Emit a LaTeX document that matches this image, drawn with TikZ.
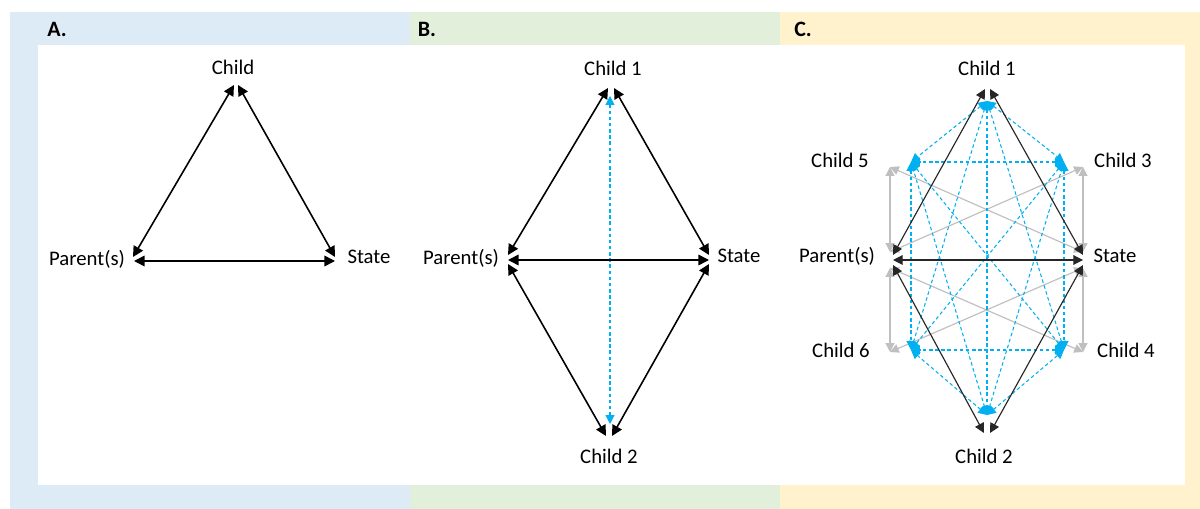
\documentclass[tikz,border=0pt]{standalone}
\usepackage{fontspec}
\setmainfont{Carlito}
\usetikzlibrary{arrows.meta}
\definecolor{bandA}{HTML}{DDEBF7}
\definecolor{bandB}{HTML}{E2EFDA}
\definecolor{bandC}{HTML}{FFF2CC}
\definecolor{cyanline}{HTML}{00B0F0}
\definecolor{greyline}{HTML}{BFBFBF}
\begin{document}
\begin{tikzpicture}[x=0.02cm,y=-0.02cm,
  lbl/.style={font=\fontsize{11.8}{14}\selectfont, inner sep=0pt},
  ttl/.style={font=\fontsize{12.5}{15}\selectfont\bfseries, inner sep=0pt},
  blk/.style={draw=black, line width=0.9pt, {Triangle[length=6pt,width=6pt]}-{Triangle[length=6pt,width=6pt]}},
  blkthin/.style={draw=black!85, line width=0.65pt, {Triangle[length=5.5pt,width=5.5pt]}-{Triangle[length=5.5pt,width=5.5pt]}},
  bluedash/.style={draw=cyanline, line width=0.6pt, dash pattern=on 2pt off 1.5pt, {Triangle[length=5pt,width=5pt]}-{Triangle[length=5pt,width=5pt]}},
  greyarr/.style={draw=greyline, line width=0.65pt, {Triangle[length=5pt,width=5pt]}-{Triangle[length=5pt,width=5pt]}}
]
\useasboundingbox (0,0) rectangle (1200,509);
% background bands
\fill[bandA] (10,12) rectangle (410,509);
\fill[bandB] (410,12) rectangle (780,509);
\fill[bandC] (780,12) rectangle (1200,509);
\fill[white] (38,45) rectangle (1185,485);
\node[ttl] (tA) at (57,29) {A.};
\node[ttl] (tB) at (427,29) {B.};
\node[ttl] (tC) at (803,29) {C.};

% ---------- Panel A ----------
\node[lbl] (Achild) at (233,67) {Child};
\node[lbl] (Apar) at (87,259) {Parent(s)};
\node[lbl] (Astate) at (369,257) {State};
\coordinate (a1l) at (234,85);
\coordinate (a1r) at (238,85);
\coordinate (a2t) at (133,257);
\coordinate (a2h) at (134,261);
\coordinate (a3t) at (335,257);
\coordinate (a3h) at (335,261);
\draw[blk] (a1l) -- (a2t);
\draw[blk] (a1r) -- (a3t);
\draw[blk] (a2h) -- (a3h);

% ---------- Panel B ----------
\node[lbl] (Bc1) at (613,68) {Child 1};
\node[lbl] (Bpar) at (461,258) {Parent(s)};
\node[lbl] (Bstate) at (739,256) {State};
\node[lbl] (Bc2) at (609,456) {Child 2};
\coordinate (b1l) at (608,88);
\coordinate (b1r) at (614,88);
\coordinate (b2t) at (508,255);
\coordinate (b2h) at (508,260);
\coordinate (b2b) at (508,264);
\coordinate (b3t) at (709,255);
\coordinate (b3h) at (709,260);
\coordinate (b3b) at (709,264);
\coordinate (b4l) at (606,436);
\coordinate (b4r) at (612,436);
\coordinate (b1d) at (610,96);
\coordinate (b4d) at (610,424);
\draw[bluedash] (b1d) -- (b4d);
\draw[blk] (b1l) -- (b2t);
\draw[blk] (b1r) -- (b3t);
\draw[blk] (b2h) -- (b3h);
\draw[blk] (b4l) -- (b2b);
\draw[blk] (b4r) -- (b3b);

% ---------- Panel C ----------
\node[lbl] (Cc1) at (987,68) {Child 1};
\node[lbl] (Cc5) at (840,160) {Child 5};
\node[lbl] (Cc3) at (1123,160) {Child 3};
\node[lbl] (Cpar) at (837,256) {Parent(s)};
\node[lbl] (Cstate) at (1115,256) {State};
\node[lbl] (Cc6) at (841,350) {Child 6};
\node[lbl] (Cc4) at (1126,350) {Child 4};
\node[lbl] (Cc2) at (984,456) {Child 2};

\coordinate (c1kl) at (985,89);
\coordinate (c1kr) at (990,89);
\coordinate (c1b) at (987,101);
\coordinate (c5b) at (911,162);
\coordinate (c5g) at (890,167);
\coordinate (c3b) at (1064,162);
\coordinate (c3g) at (1083,167);
\coordinate (pkt) at (893,255);
\coordinate (pkh) at (893,260);
\coordinate (pkb) at (893,265);
\coordinate (pgu) at (890,252);
\coordinate (pgd) at (890,268);
\coordinate (skt) at (1083,255);
\coordinate (skh) at (1083,260);
\coordinate (skb) at (1083,265);
\coordinate (sgu) at (1083,252);
\coordinate (sgd) at (1083,268);
\coordinate (c6b) at (911,350);
\coordinate (c6g) at (890,352);
\coordinate (c4b) at (1064,350);
\coordinate (c4g) at (1083,352);
\coordinate (c2kl) at (984,433);
\coordinate (c2kr) at (990,433);
\coordinate (c2b) at (987,415);

% grey
\draw[greyarr] (pgu) -- (c5g);
\draw[greyarr] (pgu) -- (c3g);
\draw[greyarr] (pgd) -- (c6g);
\draw[greyarr] (pgd) -- (c4g);
\draw[greyarr] (sgu) -- (c3g);
\draw[greyarr] (sgu) -- (c5g);
\draw[greyarr] (sgd) -- (c4g);
\draw[greyarr] (sgd) -- (c6g);

% blue dashed: all pairs of children
\foreach \u/\v in {c1b/c2b,c1b/c3b,c1b/c4b,c1b/c5b,c1b/c6b,
                   c2b/c3b,c2b/c4b,c2b/c5b,c2b/c6b,
                   c3b/c4b,c3b/c5b,c3b/c6b,
                   c4b/c5b,c4b/c6b,c5b/c6b}
  \draw[bluedash] (\u) -- (\v);

% black
\draw[blkthin] (c1kl) -- (pkt);
\draw[blkthin] (c1kr) -- (skt);
\draw[blkthin] (pkh) -- (skh);
\draw[blkthin] (c2kl) -- (pkb);
\draw[blkthin] (c2kr) -- (skb);
\end{tikzpicture}
\end{document}
